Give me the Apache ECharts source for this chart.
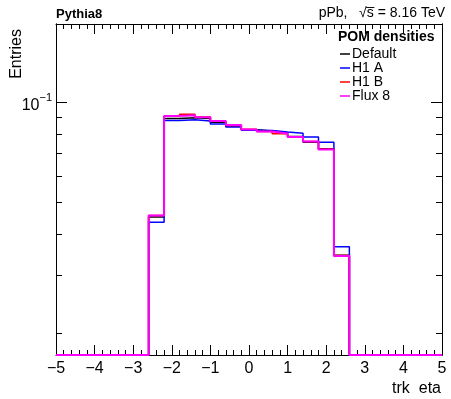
<!DOCTYPE html>
<html><head><meta charset="utf-8">
<script src="https://cdn.jsdelivr.net/npm/echarts@6/dist/echarts.min.js"></script>
<style>html,body{margin:0;padding:0;background:#fff}#c{width:451px;height:399px}</style>
</head><body><div id="c"></div>
<script>
// bin edges: 25 bins of width 0.4 from -5 to 5
var binEdges = [-5,-4.6,-4.2,-3.8,-3.4,-3,-2.6,-2.2,-1.8,-1.4,-1,-0.6,-0.2,0.2,0.6,1,1.4,1.8,2.2,2.6,3,3.4,3.8,4.2,4.6,5];
var defaultVals = [0,0,0,0,0,0,0.0450,0.0895,0.0900,0.0895,0.0872,0.0850,0.0828,0.0820,0.0810,0.0790,0.0758,0.0725,0.0345,0,0,0,0,0,0];
var h1aVals     = [0,0,0,0,0,0,0.0434,0.0882,0.0888,0.0880,0.0862,0.0844,0.0825,0.0823,0.0814,0.0808,0.0787,0.0759,0.0366,0,0,0,0,0,0];
var h1bVals     = [0,0,0,0,0,0,0.0455,0.0909,0.0922,0.0905,0.0878,0.0852,0.0830,0.0818,0.0805,0.0786,0.0763,0.0722,0.0344,0,0,0,0,0,0];
var flux8Vals   = [0,0,0,0,0,0,0.0455,0.0911,0.0916,0.0903,0.0880,0.0856,0.0829,0.0817,0.0806,0.0787,0.0762,0.0721,0.0343,0,0,0,0,0,0];
var seriesNames = ['Default','H1 A','H1 B','Flux 8'];
var seriesColors = ['#000000','#0000ff','#ff0000','#ff00ff'];
var yMin = 0.0172, yMax = 0.173;
var xTicks = [-5,-4,-3,-2,-1,0,1,2,3,4,5];
var yMajorTicks = [0.1];
var yMinorTicks = [0.02,0.03,0.04,0.05,0.06,0.07,0.08,0.09];

function steps(vals){
  var d = [];
  for (var i=0;i<vals.length;i++){ d.push([binEdges[i], Math.max(vals[i], yMin)]); }
  d.push([binEdges[binEdges.length-1], Math.max(vals[vals.length-1], yMin)]);
  return d;
}
var allVals = [defaultVals,h1aVals,h1bVals,flux8Vals];
var widths = [1.5,1.5,1.5,2];
var series = allVals.map(function(v,i){
  return {name: seriesNames[i], type:'line', step:'end', data: steps(v), symbol:'none',
    lineStyle:{color:seriesColors[i], width:widths[i]}, itemStyle:{color:seriesColors[i]},
    xAxisIndex:0, yAxisIndex:0, animation:false, z: 2+i};
});
var font = 'Liberation Sans, Arial, sans-serif';
function minus(v){ return String(v).replace('-', '\u2212'); }
function yAx(pos, ticks, len, showLabel){
  return {type:'log', logBase:10, min:yMin, max:yMax, position:pos,
    axisLine:{show:true, onZero:false, lineStyle:{color:'#000', width:1}},
    splitLine:{show:false},
    axisTick:{show:true, inside:true, length:len, customValues:ticks, lineStyle:{color:'#000'}},
    axisLabel:{show:showLabel, customValues: showLabel?ticks:undefined, margin:4,
      formatter:function(){return '{b|10}{s|\u22121}';},
      rich:{b:{fontSize:16, fontFamily:font, color:'#000', verticalAlign:'bottom'},
            s:{fontSize:11, fontFamily:font, color:'#000', verticalAlign:'top', padding:[0,0,10,0]}}},
    minorTick:{show:false}
  };
}
function xAx(pos, showLabel){
  return {type:'value', min:-5, max:5, interval:1, position:pos,
    axisLine:{show:true, onZero:false, lineStyle:{color:'#000', width:1}},
    splitLine:{show:false},
    axisTick:{show:true, inside:true, length:10, lineStyle:{color:'#000'}},
    minorTick:{show:true, splitNumber:5, length:5, lineStyle:{color:'#000'}},
    axisLabel:{show:showLabel, formatter:minus, fontSize:16, fontFamily:font, color:'#000', margin:6}
  };
}
var chart = echarts.init(document.getElementById('c'), null, {renderer:'canvas'});
chart.setOption({
  animation:false,
  backgroundColor:'#fff',
  grid:{left:56, right:9, top:24, bottom:44, containLabel:false},
  xAxis:[xAx('bottom', true), xAx('top', false)],
  yAxis:[yAx('left', yMajorTicks, 11, true), yAx('left', yMinorTicks, 6, false),
         yAx('right', yMajorTicks, 11, false), yAx('right', yMinorTicks, 6, false)],
  legend:{data:seriesNames, orient:'vertical', left:340, top:47, itemWidth:10, itemHeight:1.5, itemGap:0,
    icon:'rect', textStyle:{fontSize:14, fontFamily:font, color:'#000', lineHeight:13.5, padding:[0,0,0,-3]},
    selectedMode:false, padding:0},
  graphic:[
    {type:'text', left:56, top:8, style:{text:'Pythia8', font:'bold 13px '+font, fill:'#000'}},
    {type:'text', right:6, top:6, style:{text:'pPb,   \u221As\u0305 = 8.16 TeV', font:'14px '+font, fill:'#000'}},
    {type:'text', left:338, top:30, style:{text:'POM densities', font:'bold 14px '+font, fill:'#000'}},
    {type:'text', right:10, top:381, style:{text:'trk  eta', font:'16px '+font, fill:'#000'}},
    {type:'text', x:17, y:29, rotation:Math.PI/2, style:{text:'Entries', font:'16px '+font, fill:'#000', align:'right', verticalAlign:'middle'}}
  ],
  series: series
});
</script></body></html>
